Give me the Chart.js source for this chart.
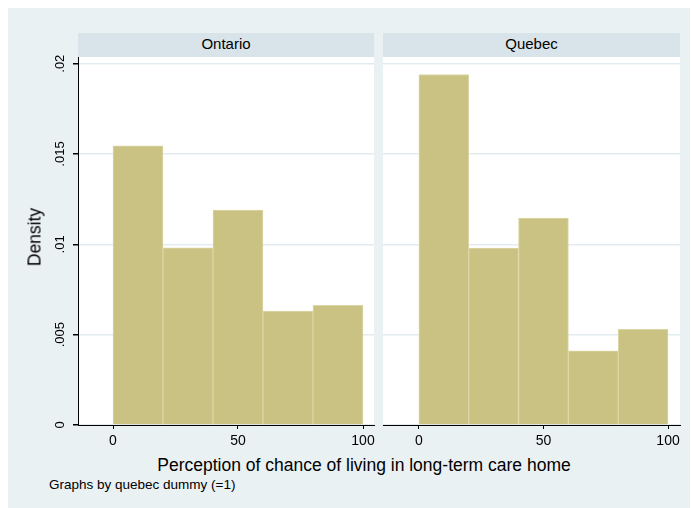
<!DOCTYPE html>
<html>
<head>
<meta charset="utf-8">
<script src="https://cdn.jsdelivr.net/npm/chart.js@4.4.0/dist/chart.umd.min.js"></script>
<style>
  body{margin:0;width:691px;height:508px;background:#fff;position:relative;overflow:hidden;
       font-family:"Liberation Sans",Arial,sans-serif;color:#000;}
  #bg{position:absolute;left:8px;top:8px;width:682px;height:500px;background:#eaf1f3;}
  .hdr{position:absolute;top:33px;height:24px;line-height:22px;background:#d8e4ea;
       text-align:center;font-size:15px;}
  canvas{position:absolute;}
  #ytitle{position:absolute;left:35px;top:237px;font-size:17.5px;white-space:nowrap;
          transform:translate(-50%,-50%) rotate(-90deg);}
  #xtitle{position:absolute;left:64px;width:600px;top:455px;text-align:center;font-size:17.5px;white-space:nowrap;}
  #note{position:absolute;left:49px;top:477px;font-size:13.5px;white-space:nowrap;}
</style>
</head>
<body>
<div id="bg"></div>
<div class="hdr" style="left:78px;width:296px;">Ontario</div>
<div class="hdr" style="left:383px;width:297px;">Quebec</div>
<canvas id="c1" width="344" height="408" style="left:40px;top:47px;"></canvas>
<canvas id="c2" width="307" height="408" style="left:383px;top:47px;"></canvas>
<div id="ytitle">Density</div>
<div id="xtitle">Perception of chance of living in long-term care home</div>
<div id="note">Graphs by quebec dummy (=1)</div>
<script>
// histogram bins (midpoints, width 20)
const binMids = [10, 30, 50, 70, 90];
const ontario = [0.01545, 0.00981, 0.01189, 0.0063, 0.00663];
const quebec = [0.0194, 0.0098, 0.01145, 0.0041, 0.0053];
const xTicks = [0, 50, 100];
const yTicks = [0, 0.005, 0.01, 0.015, 0.02];
const yTickLabels = ['0', '.005', '.01', '.015', '.02'];

const barColor = '#cac282';
const barEdge = '#dcd6a6';
const gridColor = '#e2ebef';

const whiteArea = {
  id: 'whiteArea',
  beforeDraw(chart){
    const a = chart.chartArea, c = chart.ctx;
    c.save();
    c.fillStyle = '#fff';
    c.fillRect(a.left, a.top, a.right - a.left, a.bottom - a.top);
    c.restore();
  }
};

function panel(id, vals, xmin, xmax, showY, padRight){
  new Chart(document.getElementById(id), {
    type: 'bar',
    data: {
      datasets: [{
        data: binMids.map((x, i) => ({x: x, y: vals[i]})),
        backgroundColor: barColor,
        borderColor: barEdge,
        borderWidth: 1,
        borderSkipped: 'start',
        barPercentage: 1,
        categoryPercentage: 1
      }]
    },
    options: {
      responsive: false,
      animation: false,
      events: [],
      layout: { padding: { top: 10, right: padRight, left: 0, bottom: 0 } },
      plugins: { legend: { display: false }, tooltip: { enabled: false } },
      scales: {
        x: {
          type: 'linear', min: xmin, max: xmax, offset: false,
          afterBuildTicks: s => { s.ticks = xTicks.map(v => ({value: v})); },
          afterFit: s => { s.height = 30; },
          grid: { offset: false, drawOnChartArea: false, color: '#000', tickColor: '#000', tickLength: 4 },
          border: { display: true, color: '#000', width: 1 },
          ticks: { color: '#000', font: { family: 'Liberation Sans', size: 14 }, padding: 4,
                   maxRotation: 0, minRotation: 0, callback: v => String(v) }
        },
        y: {
          min: 0, max: 0.02037,
          afterBuildTicks: s => { s.ticks = yTicks.map(v => ({value: v})); },
          afterFit: s => { s.width = showY ? 38 : 0; },
          grid: { color: gridColor, lineWidth: 1.5, tickColor: '#000', tickLength: 5, drawTicks: showY },
          border: { display: showY, color: '#000', width: 1 },
          ticks: {
            display: showY, color: '#000', font: { family: 'Liberation Sans', size: 13 },
            padding: 0, crossAlign: 'center', minRotation: 90, maxRotation: 90,
            callback: (v, i) => yTickLabels[yTicks.indexOf(v)]
          }
        }
      }
    },
    plugins: [whiteArea]
  });
}

panel('c1', ontario, -14, 104.4, true, 10);
panel('c2', quebec, -14.4, 104.8, false, 10);
</script>
</body>
</html>
